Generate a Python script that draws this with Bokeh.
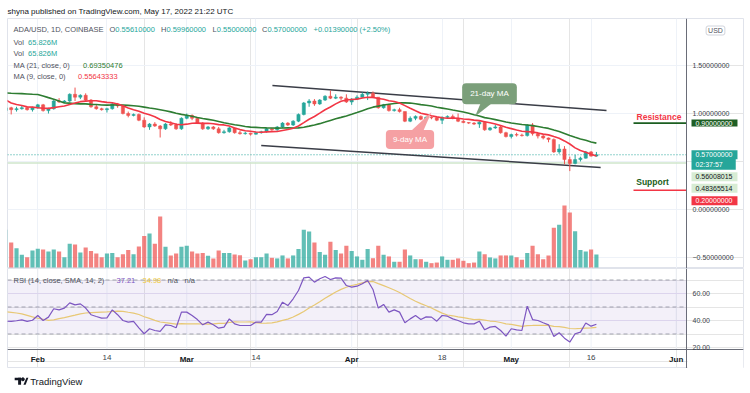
import numpy as np
import pandas as pd
from bokeh.plotting import figure
from bokeh.models import Range1d, FixedTicker, Label, BoxAnnotation, Grid, LinearAxis
from bokeh.layouts import column
from bokeh.embed import file_html
from bokeh.resources import INLINE

# ---------------- data (ADA/USD daily, Coinbase) ----------------
first_day = "2022-01-26"
opens = [
    1.03, 1.06, 1.04, 1.05, 1.06, 1.04,
    1.06, 1.09, 1.03, 1.05, 1.13, 1.12, 1.13, 1.20, 1.17, 1.19, 1.14, 1.07, 1.05, 1.04,
    1.05, 1.10, 1.08, 1.00, 0.98, 0.99, 0.93, 0.86, 0.89, 0.87, 0.84, 0.89, 0.88, 0.84,
    0.95, 0.98, 0.95, 0.90, 0.84, 0.86, 0.84, 0.80, 0.81, 0.85, 0.80, 0.79, 0.795, 0.785,
    0.80, 0.81, 0.84, 0.83, 0.86, 0.90, 0.88, 0.92, 0.99, 1.11, 1.13, 1.10, 1.14, 1.18,
    1.16, 1.17, 1.16,
    1.12, 1.15, 1.17, 1.20, 1.21, 1.17, 1.06, 1.09, 1.03, 1.04, 1.02, 0.92, 0.95, 0.97,
    0.94, 0.96, 0.955, 0.93, 0.96, 0.97, 0.95, 0.92, 0.905, 0.90, 0.89, 0.91, 0.83, 0.85,
    0.86, 0.80,
    0.76, 0.78, 0.775, 0.77, 0.88, 0.79, 0.765, 0.745, 0.73, 0.60, 0.63, 0.52, 0.48, 0.52,
    0.535, 0.60, 0.5561,
]
highs = [
    1.10, 1.07, 1.07, 1.08, 1.07, 1.07,
    1.10, 1.10, 1.06, 1.14, 1.16, 1.14, 1.21, 1.27, 1.20, 1.21, 1.15, 1.09, 1.06, 1.06,
    1.11, 1.11, 1.09, 1.02, 1.00, 1.00, 0.96, 0.90, 0.91, 0.88, 0.90, 0.92, 0.90, 0.96,
    1.00, 0.99, 0.96, 0.91, 0.87, 0.87, 0.86, 0.83, 0.86, 0.85, 0.82, 0.81, 0.80, 0.81,
    0.82, 0.85, 0.85, 0.87, 0.91, 0.91, 0.93, 1.00, 1.12, 1.15, 1.15, 1.15, 1.19, 1.24,
    1.20, 1.18, 1.20,
    1.16, 1.19, 1.22, 1.23, 1.23, 1.17, 1.10, 1.10, 1.05, 1.06, 1.02, 0.97, 0.98, 0.98,
    0.97, 0.97, 0.96, 0.97, 0.98, 0.99, 1.00, 0.93, 0.91, 0.91, 0.92, 0.92, 0.86, 0.88,
    0.87, 0.81,
    0.79, 0.80, 0.79, 0.89, 0.90, 0.80, 0.78, 0.75, 0.74, 0.68, 0.66, 0.55, 0.57, 0.55,
    0.61, 0.61, 0.5996,
]
lows = [
    1.01, 0.99, 1.02, 1.04, 1.03, 1.02,
    1.05, 1.02, 1.00, 1.04, 1.11, 1.11, 1.12, 1.13, 1.15, 1.12, 1.06, 1.04, 1.03, 1.01,
    1.04, 1.06, 0.99, 0.96, 0.97, 0.92, 0.85, 0.83, 0.86, 0.75, 0.83, 0.87, 0.83, 0.83,
    0.94, 0.93, 0.89, 0.83, 0.83, 0.83, 0.79, 0.79, 0.80, 0.79, 0.78, 0.78, 0.77, 0.78,
    0.79, 0.80, 0.82, 0.82, 0.85, 0.87, 0.87, 0.91, 0.98, 1.07, 1.08, 1.09, 1.13, 1.15,
    1.15, 1.14, 1.11,
    1.09, 1.14, 1.16, 1.14, 1.16, 1.05, 1.05, 1.02, 1.02, 1.01, 0.91, 0.91, 0.93, 0.93,
    0.94, 0.94, 0.92, 0.89, 0.95, 0.94, 0.91, 0.90, 0.89, 0.88, 0.85, 0.82, 0.82, 0.84,
    0.79, 0.75,
    0.74, 0.76, 0.76, 0.76, 0.77, 0.74, 0.73, 0.70, 0.59, 0.58, 0.47, 0.40, 0.47, 0.50,
    0.53, 0.55, 0.55,
]
closes = [
    1.06, 1.04, 1.05, 1.06, 1.04, 1.06,
    1.09, 1.03, 1.05, 1.13, 1.12, 1.13, 1.20, 1.17, 1.19, 1.14, 1.07, 1.05, 1.04, 1.05,
    1.10, 1.08, 1.00, 0.98, 0.99, 0.93, 0.86, 0.89, 0.87, 0.84, 0.89, 0.88, 0.84, 0.95,
    0.98, 0.95, 0.90, 0.84, 0.86, 0.84, 0.80, 0.81, 0.85, 0.80, 0.79, 0.795, 0.785, 0.80,
    0.81, 0.84, 0.83, 0.86, 0.90, 0.88, 0.92, 0.99, 1.11, 1.13, 1.10, 1.14, 1.18, 1.16,
    1.17, 1.16, 1.12,
    1.15, 1.17, 1.20, 1.21, 1.17, 1.06, 1.09, 1.03, 1.04, 1.02, 0.92, 0.95, 0.97, 0.94,
    0.96, 0.955, 0.93, 0.96, 0.97, 0.95, 0.92, 0.905, 0.90, 0.89, 0.91, 0.83, 0.85, 0.86,
    0.80, 0.76,
    0.78, 0.775, 0.77, 0.88, 0.79, 0.765, 0.745, 0.73, 0.60, 0.63, 0.52, 0.48, 0.52, 0.535,
    0.60, 0.5561, 0.57,
]
volumes_m = [
    190.6, 126.5, 97.8, 64.1, 52.3, 86,
    94.5, 91, 81, 91, 81, 52, 120, 116, 76, 101, 84, 71, 52, 71,
    74, 52, 67, 88, 67, 106, 159, 172, 120, 258, 105, 61, 71, 105,
    110, 81, 71, 74, 59, 46, 86, 74, 74, 66, 62, 35, 42, 52,
    52, 71, 49, 46, 61, 46, 61, 94, 191, 182, 127, 78, 64, 130,
    88, 71, 110,
    84, 56, 39, 94, 47, 110, 64, 56, 29, 29, 91, 61, 42, 42,
    29, 22, 25, 56, 39, 39, 46, 34, 22, 25, 81, 67, 51, 46,
    61, 61,
    61, 52, 39, 74, 110, 67, 42, 61, 201, 216, 314, 278, 184, 88,
    81, 91, 65.826,
]
rsi_values = [
    39.5, 39.3, 39.8, 40.5, 39.3, 40.2,
    43.7, 40.0, 42.5, 48.7, 47.9, 49.2, 53.1, 51.6, 52.3, 49.2, 44.3, 43.0, 41.8, 42.0,
    47.9, 44.3, 40.0, 38.8, 39.3, 34.6, 30.2, 33.9, 32.6, 31.9, 36.8, 36.3, 34.6, 46.2,
    46.2, 43.7, 40.7, 36.8, 38.8, 36.8, 34.3, 35.1, 41.2, 37.5, 36.3, 36.3, 36.3, 38.8,
    38.8, 44.5, 44.3, 46.7, 53.6, 51.1, 56.1, 62.2, 71.6, 72.1, 68.4, 70.9, 72.6, 70.4,
    71.6, 71.4, 65.9,
    64.7, 65.4, 67.2, 69.6, 63.0, 49.2, 51.9, 46.2, 47.9, 46.2, 38.3, 41.2, 43.7, 40.7,
    42.7, 42.5, 39.5, 43.7, 43.2, 41.2, 40.0, 38.3, 37.5, 37.5, 39.5, 33.1, 35.1, 35.6,
    32.6, 28.4,
    33.9, 33.1, 32.6, 50.6, 40.7, 40.0, 38.3, 36.8, 28.1, 30.9, 26.9, 24.0, 30.2, 31.4,
    38.1, 35.8, 37.21,
]
# earlier sessions (left of the visible window), needed for the moving averages
prior_closes = [1.20, 1.12, 1.10, 1.09, 1.10, 1.13, 1.14, 1.36, 1.41, 1.48, 1.52, 1.55,
                1.24, 1.31, 1.20, 1.15, 1.17, 1.08, 1.15, 1.08, 1.06]          # Jan 5 - Jan 25
prior_rsi = [45, 47, 50, 54, 56, 58, 50, 54, 44, 35, 39, 40, 39]              # Jan 13 - Jan 25

month_tick_dates = ["2022-02-01", "2022-03-01", "2022-04-01", "2022-05-01", "2022-06-01"]
month_tick_labels = ["Feb", "Mar", "Apr", "May", "Jun"]
day_tick_dates = ["2022-02-14", "2022-03-14", "2022-04-18", "2022-05-16"]
day_tick_labels = ["14", "14", "18", "16"]
price_ticks = [-0.5, 0.0, 1.0, 1.5]
price_tick_labels = ["\u22120.50000000", "0.00000000", "1.00000000", "1.50000000"]
price_grid = [-0.5, 0.0, 0.5, 1.0, 1.5]
rsi_ticks = [20, 40, 60]
rsi_tick_labels = ["20.00", "40.00", "60.00"]

RESISTANCE = 0.90
SUPPORT = 0.20
LAST_CLOSE = 0.57
LEVEL_A = 0.56008015
LEVEL_B = 0.48365514
upper_trend_days, upper_trend_prices = [44.1, 106.9], [1.292, 1.031]
lower_trend_days, lower_trend_prices = [42.0, 105.8], [0.667, 0.4375]

# ---------------- styling / layout ----------------
FONT = "Liberation Sans"
TXT = "#50535e"
DARK = "#131722"
UP, DOWN = "#26a69a", "#ef5350"
MA21_C, MA9_C = "#2e7d32", "#f23645"
RSI_C, RSI_MA_C = "#7e57c2", "#f3d46e"
GRID_C = "#eef2f8"

W = 748
PX_PER_DAY, FEB1_PX = 5.32, 37.3
FRAME_L, AXIS_X, FRAME_R = 7, 686, 743
PRICE_ZERO_PX, PX_PER_UNIT = 209, 96
MAIN_TOP, MAIN_BOT = 18, 268
VOL_BASE_PX, VOL_PER_PX = 267, 5.06
RSI20_PX, PX_PER_RSI = 347, 1.35
RSI_TOP, RSI_BOT, TIME_BOT = 268, 349, 368
PAGE_H = 391


def dx(px):
    return (px - FEB1_PX) / PX_PER_DAY


def py(px):
    return (PRICE_ZERO_PX - px) / PX_PER_UNIT


def pr(px):
    return 20 + (RSI20_PX - px) / PX_PER_RSI


BASE = pd.Timestamp("2022-02-01")
dates = pd.date_range(first_day, periods=len(closes), freq="D")
x = np.array((dates - BASE).days, dtype=float)
prior_dates = pd.date_range(end=dates[0] - pd.Timedelta(days=1), periods=len(prior_closes), freq="D")
x_all = np.concatenate([np.array((prior_dates - BASE).days, dtype=float), x])
all_closes = pd.Series(prior_closes + closes)
ma9 = all_closes.rolling(9).mean().to_numpy()
ma21 = all_closes.rolling(21).mean().to_numpy()

prior_rsi_dates = pd.date_range(end=dates[0] - pd.Timedelta(days=1), periods=len(prior_rsi), freq="D")
x_rsi_all = np.concatenate([np.array((prior_rsi_dates - BASE).days, dtype=float), x])
all_rsi = pd.Series(prior_rsi + rsi_values)
rsi_ma = all_rsi.rolling(14).mean().to_numpy()

o = np.array(opens); c = np.array(closes); h = np.array(highs); l = np.array(lows)
colors = [UP if cc >= oo else DOWN for oo, cc in zip(o, c)]

month_ticks = [int((pd.Timestamp(d) - BASE).days) for d in month_tick_dates]
day_ticks = [int((pd.Timestamp(d) - BASE).days) for d in day_tick_dates]
xticks = sorted(month_ticks + day_ticks)
x_range = Range1d(dx(FRAME_L), dx(FRAME_R))
X0, XA = dx(FRAME_L), dx(AXIS_X)


def style_axis(ax, ticks, labels, size="7px", standoff=6, bold=False):
    ax.ticker = FixedTicker(ticks=ticks)
    ax.major_label_overrides = dict(zip(ticks, labels))
    ax.major_label_text_font = FONT
    ax.major_label_text_font_size = size
    ax.major_label_text_color = DARK if bold else "#3c3f4a"
    ax.major_label_text_font_style = "bold" if bold else "normal"
    ax.major_tick_out = 0
    ax.major_tick_in = 0
    ax.minor_tick_out = 0
    ax.minor_tick_in = 0
    ax.major_label_standoff = standoff
    ax.axis_line_color = "#6a6d78"


# ---------------- main (price + volume) pane ----------------
p = figure(width=W, height=MAIN_BOT, x_range=x_range,
           y_range=Range1d(py(MAIN_BOT), py(MAIN_TOP)),
           output_backend="svg", toolbar_location=None,
           x_axis_location=None, y_axis_location=None,
           min_border_left=FRAME_L, min_border_right=W - FRAME_R,
           min_border_top=MAIN_TOP, min_border_bottom=0,
           title="shyna published on TradingView.com, May 17, 2022 21:22 UTC")
p.title.text_font = FONT
p.title.text_font_size = "8px"
p.title.text_font_style = "normal"
p.title.text_color = DARK
p.title.align = "left"
p.title.standoff = 6
p.outline_line_color = "#e0e3eb"
p.background_fill_color = "white"
p.border_fill_color = "white"

price_axis = LinearAxis(fixed_location=XA)
style_axis(price_axis, price_ticks, price_tick_labels)
p.add_layout(price_axis, "right")

p.segment(x0=[X0] * len(price_grid), y0=price_grid, x1=[XA] * len(price_grid), y1=price_grid,
          line_color=GRID_C, line_width=1)
p.add_layout(Grid(dimension=0, ticker=FixedTicker(ticks=xticks), grid_line_color=GRID_C))

p.extra_y_ranges = {"vol": Range1d(-(MAIN_BOT - VOL_BASE_PX) * VOL_PER_PX,
                                   (VOL_BASE_PX - MAIN_TOP) * VOL_PER_PX)}
p.vbar(x=x, width=0.78, top=volumes_m, bottom=0, y_range_name="vol",
       fill_color=colors, line_color=None, fill_alpha=0.72)

p.segment(x0=[X0], y0=[LEVEL_B], x1=[XA], y1=[LEVEL_B], line_color="#cfe6cb", line_width=1.5)
p.segment(x0=[X0], y0=[LAST_CLOSE], x1=[XA], y1=[LAST_CLOSE], line_color=UP, line_dash="1 2", line_width=1)

p.line(upper_trend_days, upper_trend_prices, line_color="#3a3d47", line_width=1.5)
p.line(lower_trend_days, lower_trend_prices, line_color="#3a3d47", line_width=1.5)

p.segment(x0=x, y0=l, x1=x, y1=h, line_color=colors, line_width=1)
p.vbar(x=x, width=0.6, top=np.maximum(o, c), bottom=np.minimum(o, c),
       fill_color=colors, line_color=colors, line_width=0.5)

p.line(x_all, ma21, line_color=MA21_C, line_width=1.6)
p.line(x_all, ma9, line_color=MA9_C, line_width=1.6)

# resistance / support markers
p.segment(x0=[dx(633)], y0=[RESISTANCE], x1=[XA], y1=[RESISTANCE], line_color="#1b5e20", line_width=1.6)
p.segment(x0=[dx(633)], y0=[SUPPORT], x1=[XA], y1=[SUPPORT], line_color="#f23645", line_width=1.6)
p.add_layout(Label(x=dx(658.5), y=RESISTANCE, y_offset=6, text="Resistance", text_align="center",
                   text_baseline="middle", text_font=FONT, text_font_size="8.5px",
                   text_font_style="bold", text_color="#f23645"))
p.add_layout(Label(x=dx(652), y=SUPPORT, y_offset=8, text="Support", text_align="center",
                   text_baseline="middle", text_font=FONT, text_font_size="8.5px",
                   text_font_style="bold", text_color="#1b5e20"))

# callouts
p.patch([dx(480), dx(491), dx(474.5)], [py(103), py(103), py(116)], color="#7b9f7a", line_color=None)
p.add_layout(Label(x=dx(489), y=py(93.3), text="21-day MA", text_align="center", text_baseline="middle",
                   text_font=FONT, text_font_size="8px", text_color="white",
                   background_fill_color="#7b9f7a", border_radius=4,
                   padding=dict(left=8, right=8, top=6, bottom=6)))
p.patch([dx(411), dx(423), dx(431)], [py(130), py(130), py(111.5)], color="#f5a0a3", line_color=None)
p.add_layout(Label(x=dx(409.5), y=py(139), text="9-day MA", text_align="center", text_baseline="middle",
                   text_font=FONT, text_font_size="8px", text_color="white",
                   background_fill_color="#f5a0a3", border_radius=4,
                   padding=dict(left=7, right=7, top=5, bottom=5)))


def legend(fig, conv, px_x, px_y, text, color, size="7.5px"):
    fig.add_layout(Label(x=dx(px_x), y=conv(px_y), text=text, text_color=color, text_font=FONT,
                         text_font_size=size, text_baseline="middle", text_align="left"))


legend(p, py, 13, 29, "ADA/USD, 1D, COINBASE", TXT)
for lx, letter, val in [(109, "O", "0.55610000"), (160.5, "H", "0.59960000"),
                        (212, "L", "0.55000000"), (261.5, "C", "0.57000000")]:
    legend(p, py, lx, 29, letter, TXT)
    legend(p, py, lx + {"O": 5.8, "H": 5.4, "L": 4.3, "C": 5.4}[letter], 29, val, UP)
legend(p, py, 313, 29, "+0.01390000 (+2.50%)", UP)
legend(p, py, 13, 42, "Vol", TXT)
legend(p, py, 27.5, 42, "65.826M", UP)
legend(p, py, 13, 53, "Vol", TXT)
legend(p, py, 27.5, 53, "65.826M", UP)
legend(p, py, 13, 64.5, "MA (21, close, 0)", TXT)
legend(p, py, 82.5, 64.5, "0.69350476", MA21_C)
legend(p, py, 13, 76, "MA (9, close, 0)", TXT)
legend(p, py, 77.5, 76, "0.55643333", MA9_C)


def axis_tag(fig, yv, yoff, text, bg, fg, pad_right=5, pad_v=1):
    fig.add_layout(Label(x=XA, y=yv, x_offset=5, y_offset=yoff, text=text,
                         text_align="left", text_baseline="middle", text_font=FONT,
                         text_font_size="7px", text_color=fg, background_fill_color=bg,
                         padding=dict(left=4, right=pad_right, top=pad_v, bottom=pad_v)))


axis_tag(p, RESISTANCE, 0, "0.90000000", "#1e5e24", "white")
axis_tag(p, LAST_CLOSE, -9.5, "02:37:57", UP, "white", pad_right=13, pad_v=2)
axis_tag(p, LAST_CLOSE, 0, "0.57000000", UP, "white", pad_v=2)
axis_tag(p, LAST_CLOSE, -33.5, "0.48365514", "#d7ecd4", DARK, pad_v=2)
axis_tag(p, LAST_CLOSE, -22, "0.56008015", "#d7ecd4", DARK, pad_v=2)
axis_tag(p, SUPPORT, -10.5, "0.20000000", "#f23645", "white", pad_v=2)
p.add_layout(Label(x=dx(715), y=py(30), text="USD", text_align="center", text_baseline="middle",
                   text_font=FONT, text_font_size="7px", text_color=TXT,
                   background_fill_color="white", border_line_color="#d1d4dc", border_radius=2,
                   padding=dict(left=2, right=2, top=1, bottom=1)))

# ---------------- RSI pane (frame also covers the time-scale strip) ----------------
r = figure(width=W, height=TIME_BOT - RSI_TOP, x_range=x_range,
           y_range=Range1d(pr(TIME_BOT), pr(RSI_TOP)),
           output_backend="svg", toolbar_location=None,
           x_axis_location=None, y_axis_location=None,
           min_border_left=FRAME_L, min_border_right=W - FRAME_R,
           min_border_top=0, min_border_bottom=0)
r.outline_line_color = "#e0e3eb"
r.background_fill_color = "white"
r.border_fill_color = "white"

day_axis = LinearAxis(fixed_location=pr(RSI_BOT))
style_axis(day_axis, day_ticks, day_tick_labels, size="8px", standoff=5)
r.add_layout(day_axis, "below")
month_axis = LinearAxis(fixed_location=pr(RSI_BOT))
style_axis(month_axis, month_ticks, month_tick_labels, size="8px", standoff=5, bold=True)
month_axis.axis_line_color = None
r.add_layout(month_axis, "below")

r.segment(x0=xticks, y0=[pr(RSI_BOT)] * len(xticks), x1=xticks, y1=[pr(RSI_TOP)] * len(xticks),
          line_color=GRID_C, line_width=1)
r.segment(x0=[X0, X0], y0=[40, 60], x1=[XA, XA], y1=[40, 60], line_color="#e6e1f2", line_width=1)
r.add_layout(BoxAnnotation(left=X0, right=XA, bottom=30, top=70, fill_color=RSI_C,
                           fill_alpha=0.09, line_color=None))
r.segment(x0=[X0] * 3, y0=[70, 50, 30], x1=[XA] * 3, y1=[70, 50, 30],
          line_color="#a3a6af", line_dash="4 3", line_width=1)
r.line(x_rsi_all, rsi_ma, line_color=RSI_MA_C, line_width=1.2)
r.line(x_rsi_all, all_rsi.to_numpy(), line_color=RSI_C, line_width=1.2)

rsi_axis = LinearAxis(fixed_location=XA)
style_axis(rsi_axis, rsi_ticks, rsi_tick_labels)
r.add_layout(rsi_axis, "right")
# the pane ends at the time scale: hide the part of the lowest RSI label below it
r.add_layout(BoxAnnotation(left=dx(AXIS_X + 1), right=dx(FRAME_R), bottom=pr(TIME_BOT),
                           top=pr(RSI_BOT + 0.5), fill_color="white", fill_alpha=1.0, line_color=None))

legend(r, pr, 13, 280, "RSI (14, close, SMA, 14, 2)", TXT)
legend(r, pr, 116, 280, "37.21", RSI_C)
legend(r, pr, 142, 280, "34.98", "#f0c93a")
legend(r, pr, 167, 280, "n/a", TXT)
legend(r, pr, 184, 280, "n/a", TXT)

# ---------------- footer (page-pixel coordinates) ----------------
f = figure(width=W, height=PAGE_H - TIME_BOT, x_range=Range1d(0, W),
           y_range=Range1d(PAGE_H, TIME_BOT),
           output_backend="svg", toolbar_location=None,
           x_axis_location=None, y_axis_location=None,
           min_border_left=0, min_border_right=0, min_border_top=0, min_border_bottom=0)
f.outline_line_color = None
f.background_fill_color = "white"
f.border_fill_color = "white"
f.grid.visible = False
# TradingView logo mark
f.quad(left=[7.3, 10.8], right=[13.8, 13.8], top=[377.2, 377.2], bottom=[379.8, 384.2],
       fill_color=DARK, line_color=None)
f.scatter(x=[15.6], y=[378.8], size=3, color=DARK)
f.patch([16.2, 19.2, 21.2, 18.4], [384.2, 377.2, 377.2, 384.2], color=DARK, line_color=None)
f.add_layout(Label(x=23, y=380.7, text="TradingView", text_align="left", text_baseline="middle",
                   text_font=FONT, text_font_size="9.5px", text_color=DARK))

layout = column(p, r, f, spacing=0)
open("out.html", "w").write(file_html(layout, INLINE))
